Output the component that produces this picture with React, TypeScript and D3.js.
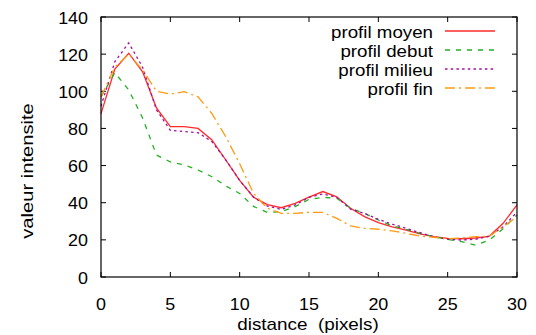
import React from "react";
import * as d3 from "d3";

const xValues: number[] = d3.range(0, 31);
const profilMoyen: number[] = [88, 112, 120.5, 110.5, 91, 81, 81, 80, 73.8, 63, 52, 43, 39, 37.3, 39.7, 43, 46, 43.2, 37, 32.5, 29.3, 27, 25.3, 23.2, 21.7, 20.8, 20.6, 21, 21.9, 28.9, 38.8];
const profilDebut: number[] = [97, 110, 100.7, 85.6, 65.7, 62, 60.3, 57.6, 54, 49, 45, 38, 34.8, 35.2, 37.9, 41.8, 42.9, 42.4, 37, 34.3, 30.7, 27.5, 25.7, 23.5, 21.7, 20.3, 19, 17.2, 19.9, 26, 33.4];
const profilMilieu: number[] = [92, 116, 126, 113, 90, 79, 78.3, 77.7, 72.9, 63, 52, 43, 38.2, 36.4, 38.8, 42.9, 44.7, 42.9, 36.5, 34.3, 31, 28.5, 26.2, 23.9, 21.7, 20.3, 19.9, 20.3, 22, 27, 35];
const profilFin: number[] = [97, 113, 120, 111.5, 100, 98.5, 99.8, 97, 88, 75.5, 61, 45, 37, 34.3, 34.3, 34.8, 34.8, 31.6, 27.5, 26.2, 25.7, 24.8, 23.5, 22, 21.4, 20.6, 21, 21.7, 22, 27, 32.5];

const xTicks: number[] = [0, 5, 10, 15, 20, 25, 30];
const yTicks: number[] = [0, 20, 40, 60, 80, 100, 120, 140];
const seriesNames: string[] = ["profil moyen", "profil debut", "profil milieu", "profil fin"];
const xTitle = "distance  (pixels)";
const yTitle = "valeur intensite";

const W = 536, H = 335;
const L = 101, R = 517, T = 17, B = 277;
const FONT = "'Liberation Sans', Arial, Helvetica, sans-serif";
const FS = 16;
const SX = 1.12;

const styles = [
  { color: "#ff2a2a", dash: "none" },
  { color: "#22b022", dash: "5 6" },
  { color: "#a010a0", dash: "2.5 3.2" },
  { color: "#ff9a10", dash: "10 4 2 4" },
];

function Txt({ x, y, anchor, children, rotate = 0, sx = SX }: any) {
  return (
    <text
      transform={`translate(${x},${y}) rotate(${rotate}) scale(${sx},1)`}
      textAnchor={anchor}
      fontFamily={FONT}
      fontSize={FS}
      fill="#000"
      style={{ whiteSpace: "pre" }}
    >
      {children}
    </text>
  );
}

export default function App() {
  const x = d3.scaleLinear().domain([0, 30]).range([L, R]);
  const y = d3.scaleLinear().domain([0, 140]).range([B, T]);
  const data = [profilMoyen, profilDebut, profilMilieu, profilFin];
  const line = d3
    .line<number>()
    .x((_, i) => x(xValues[i]))
    .y((d) => y(d));

  const tickLen = 5;
  return (
    <svg width={W} height={H} style={{ position: "absolute", left: 0, top: 0, background: "#fff" }}>
      <rect x={0} y={0} width={W} height={H} fill="#fff" />
      {yTicks.map((t) => (
        <g key={"y" + t}>
          <line x1={L} x2={L + tickLen} y1={y(t)} y2={y(t)} stroke="#000" />
          <line x1={R} x2={R - tickLen} y1={y(t)} y2={y(t)} stroke="#000" />
          <Txt x={L - 13} y={y(t) + 6.5} anchor="end">{String(t)}</Txt>
        </g>
      ))}
      {xTicks.map((t) => (
        <g key={"x" + t}>
          <line x1={x(t)} x2={x(t)} y1={B} y2={B - tickLen} stroke="#000" />
          <line x1={x(t)} x2={x(t)} y1={T} y2={T + tickLen} stroke="#000" />
          <Txt x={x(t)} y={B + 33} anchor="middle">{String(t)}</Txt>
        </g>
      ))}
      {data.map((d, i) => (
        <path
          key={i}
          d={line(d) || ""}
          fill="none"
          stroke={styles[i].color}
          strokeWidth={1.3}
          strokeDasharray={styles[i].dash}
        />
      ))}
      <rect x={L} y={T} width={R - L} height={B - T} fill="none" stroke="#000" strokeWidth={1.2} />
      {seriesNames.map((n, i) => {
        const ly = 31 + i * 19;
        return (
          <g key={n}>
            <Txt x={433} y={ly + 6.5} anchor="end" sx={1.17}>{n}</Txt>
            <line x1={445} x2={495} y1={ly} y2={ly} stroke={styles[i].color} strokeWidth={1.3} strokeDasharray={styles[i].dash} />
          </g>
        );
      })}
      <Txt x={308} y={B + 53} anchor="middle" sx={1.18}>{xTitle}</Txt>
      <Txt x={33} y={171} anchor="middle" rotate={-90} sx={1.26}>{yTitle}</Txt>
    </svg>
  );
}
